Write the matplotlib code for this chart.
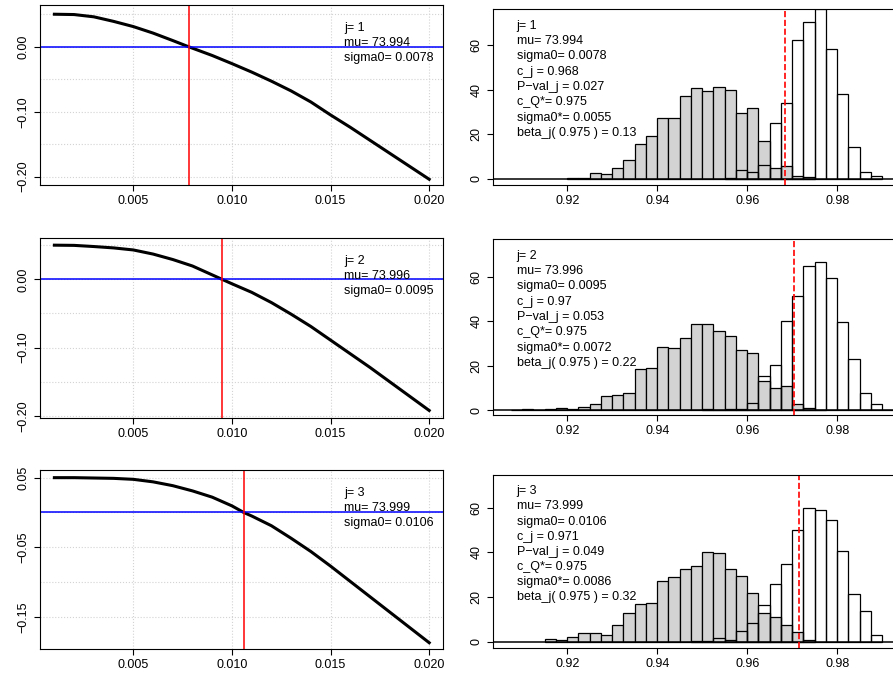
import numpy as np
import matplotlib.pyplot as plt

plt.rcParams['font.family'] = ['Liberation Sans', 'DejaVu Sans']

# left panels: curve samples
sig_x = [[0.001, 0.002, 0.003, 0.004, 0.005, 0.006, 0.007, 0.0078, 0.009, 0.010, 0.011, 0.012, 0.013, 0.014, 0.015, 0.016, 0.017, 0.018, 0.019, 0.020],
         [0.001, 0.002, 0.003, 0.004, 0.005, 0.006, 0.007, 0.008, 0.009, 0.0095, 0.010, 0.011, 0.012, 0.013, 0.014, 0.015, 0.016, 0.017, 0.018, 0.019, 0.020],
         [0.001, 0.002, 0.003, 0.004, 0.005, 0.006, 0.007, 0.008, 0.009, 0.010, 0.0106, 0.011, 0.012, 0.013, 0.014, 0.015, 0.016, 0.017, 0.018, 0.019, 0.020]]
sig_y = [[0.050, 0.0495, 0.046, 0.039, 0.031, 0.021, 0.0095, 0.0, -0.0135, -0.026, -0.039, -0.053, -0.068, -0.085, -0.105, -0.124, -0.144, -0.164, -0.184, -0.204],
         [0.050, 0.0497, 0.048, 0.046, 0.043, 0.037, 0.029, 0.0195, 0.0065, 0.0, -0.0065, -0.019, -0.034, -0.051, -0.069, -0.089, -0.109, -0.129, -0.150, -0.171, -0.192],
         [0.050, 0.050, 0.0495, 0.049, 0.0476, 0.044, 0.0385, 0.031, 0.022, 0.0095, 0.0, -0.005, -0.019, -0.037, -0.056, -0.077, -0.099, -0.121, -0.143, -0.165, -0.187]]
sigma0 = [0.0078, 0.0095, 0.0106]

# right panels: histogram densities (bin width 0.0025)
bw = 0.0025
gray_start = [0.92, 0.9075, 0.915]
gray = [[0.3, 0.3, 2.8, 2.1, 4.8, 8.4, 15.5, 19.1, 27.5, 27.2, 37.3, 40.6, 39.3, 41.2, 39.9, 29.7, 31.8, 17, 4.8, 6.0, 1.3, 0.9],
        [0, 0.4, 0, 0.7, 1, 0.4, 1.3, 2.8, 6.3, 6.7, 7.8, 18.6, 19, 28.6, 28.1, 32.5, 38.8, 38.8, 35.6, 33.5, 26.9, 25.9, 13.2, 10.2, 10.9, 3, 0.9, 0.3],
        [1.5, 1, 2.2, 4.2, 4.2, 3, 7.6, 13, 17, 17.4, 27.4, 29, 32.6, 34.1, 40.3, 39.7, 32.6, 29.3, 21.7, 13, 11.1, 7.5, 4.3, 1]]
white_start = [0.955, 0.95, 0.9475]
white = [[0.4, 4, 3, 6.3, 25.2, 34.2, 62.1, 70.3, 76, 58, 38, 14.3, 3.1, 1.2],
         [0.4, 0, 0.7, 0.7, 3.4, 15.4, 20.5, 40.1, 51.5, 64.8, 66.6, 59.6, 39.7, 22.9, 7.8, 3, 0.3],
         [0.3, 0.3, 1.6, 1, 4.8, 8.5, 16.5, 26, 34.9, 49.9, 60, 58.8, 54.3, 40.6, 21.4, 13.8, 3]]
c_j = [0.9685, 0.9703, 0.9715]
info = [["j= 1", "mu= 73.994", "sigma0= 0.0078", "c_j = 0.968", "P\u2212val_j = 0.027", "c_Q*= 0.975", "sigma0*= 0.0055", "beta_j( 0.975 ) = 0.13"],
        ["j= 2", "mu= 73.996", "sigma0= 0.0095", "c_j = 0.97", "P\u2212val_j = 0.053", "c_Q*= 0.975", "sigma0*= 0.0072", "beta_j( 0.975 ) = 0.22"],
        ["j= 3", "mu= 73.999", "sigma0= 0.0106", "c_j = 0.971", "P\u2212val_j = 0.049", "c_Q*= 0.975", "sigma0*= 0.0086", "beta_j( 0.975 ) = 0.32"]]

W, H = 893, 683
fig = plt.figure(figsize=(W / 100, H / 100), dpi=100)

left_box = [(5, 185), (238, 418), (470, 649)]
left_ylim = [(-0.2128, 0.0642), (-0.203, 0.0605), (-0.196, 0.061)]
left_yt = [[-0.2, -0.1, 0.0], [-0.2, -0.1, 0.0], [-0.15, -0.05, 0.05]]
left_yl = [["\u22120.20", "\u22120.10", "0.00"], ["\u22120.20", "\u22120.10", "0.00"], ["\u22120.15", "\u22120.05", "0.05"]]
left_grid = [[-0.2, -0.15, -0.1, -0.05, 0, 0.05], [-0.2, -0.15, -0.1, -0.05, 0, 0.05], [-0.15, -0.1, -0.05, 0, 0.05]]
right_box = [(9, 185), (239, 415), (475, 648)]
right_ylim = [(-2.7, 76.1), (-2.1, 76.9), (-2.7, 74.6)]


def axes_at(x0, x1, top, bot):
    return fig.add_axes([x0 / W, 1 - bot / H, (x1 - x0) / W, (bot - top) / H])


for i in range(3):
    # left panel
    ax = axes_at(40, 443, *left_box[i])
    ax.set_xlim(0.00027, 0.0207)
    ax.set_ylim(*left_ylim[i])
    for g in [0.005, 0.010, 0.015, 0.020]:
        ax.axvline(g, color='lightgray', ls=':', lw=0.8, zorder=0)
    for g in left_grid[i]:
        ax.axhline(g, color='lightgray', ls=':', lw=0.8, zorder=0)
    ax.plot(sig_x[i], sig_y[i], color='black', lw=2.2, solid_joinstyle='round')
    ax.axhline(0, color='blue', lw=1.1)
    ax.axvline(sigma0[i], color='red', lw=1.1)
    ax.set_xticks([0.005, 0.010, 0.015, 0.020])
    ax.set_xticklabels(["0.005", "0.010", "0.015", "0.020"])
    ax.set_yticks(left_yt[i])
    ax.set_yticklabels(left_yl[i], rotation=90, va='center')
    ax.tick_params(labelsize=9, length=4)
    for k, s in enumerate(info[i][:3]):
        ax.text(0.755, 0.87 - k * 0.083, s, transform=ax.transAxes, fontsize=9, va='center')

    # right panel
    ax = axes_at(493, 900, *right_box[i])
    ax.set_xlim(0.9035, 0.9924 + 7 / 4500)
    ax.set_ylim(*right_ylim[i])
    gx = gray_start[i] + bw * np.arange(len(gray[i]))
    wx = white_start[i] + bw * np.arange(len(white[i]))
    ax.bar(gx, gray[i], width=bw, align='edge', color='lightgray', edgecolor='black', lw=0.9)
    ax.bar(wx, white[i], width=bw, align='edge', fill=False, edgecolor='black', lw=0.9)
    ax.axhline(0, color='black', lw=1.1)
    ax.axvline(c_j[i], color='red', ls='--', lw=1.2)
    ax.set_xticks([0.92, 0.94, 0.96, 0.98])
    ax.set_xticklabels(["0.92", "0.94", "0.96", "0.98"])
    ax.set_yticks([0, 20, 40, 60])
    ax.set_yticklabels(["0", "20", "40", "60"], rotation=90, va='center')
    ax.tick_params(labelsize=9, length=4)
    for k, s in enumerate(info[i]):
        ax.text(0.058, 0.905 - k * 0.087, s, transform=ax.transAxes, fontsize=9, va='center')

fig.savefig("out.png", dpi=100)
